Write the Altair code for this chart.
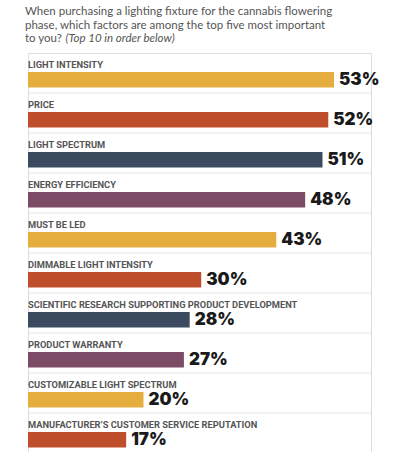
import altair as alt
import pandas as pd

factors = [
    "LIGHT INTENSITY",
    "PRICE",
    "LIGHT SPECTRUM",
    "ENERGY EFFICIENCY",
    "MUST BE LED",
    "DIMMABLE LIGHT INTENSITY",
    "SCIENTIFIC RESEARCH SUPPORTING PRODUCT DEVELOPMENT",
    "PRODUCT WARRANTY",
    "CUSTOMIZABLE LIGHT SPECTRUM",
    "MANUFACTURER\u2019S CUSTOMER SERVICE REPUTATION",
]
values = [53, 52, 51, 48, 43, 30, 28, 27, 20, 17]
color_group = ["a", "b", "c", "d", "a", "b", "c", "d", "a", "b"]
palette_domain = ["a", "b", "c", "d"]
palette_range = ["#E4AD3D", "#BF4F2C", "#3B4A5F", "#7C4B66"]

title_lines = [
    "When purchasing a lighting fixture for the cannabis flowering",
    "phase, which factors are among the top five most important",
    "to you?",
]
title_italic = "(Top 10 in order below)"

df = pd.DataFrame({
    "factor": factors,
    "value": values,
    "grp": color_group,
    "label": [f"{v}%" for v in values],
    "zero": [0] * len(values),
    "full": [59.4] * len(values),
})

ysc = alt.Scale(paddingInner=0, paddingOuter=0)
xsc = alt.Scale(domain=[0, 59.4], nice=False, zero=True)

base = alt.Chart(df).encode(
    y=alt.Y("factor:N", sort=None, axis=None, scale=ysc),
)

rules = base.mark_rule(color="#E3E3E3", strokeWidth=1, yOffset=20).encode(
    x=alt.X("zero:Q", scale=xsc, axis=None), x2="full:Q"
)

bars = base.mark_bar(size=15.5, yOffset=6.75).encode(
    x=alt.X("value:Q", scale=xsc, axis=None),
    color=alt.Color("grp:N", scale=alt.Scale(domain=palette_domain, range=palette_range), legend=None),
)

cat_text = base.mark_text(
    align="left", baseline="middle", dy=-8, font="Roboto",
    fontWeight="bold", fontSize=9.3, color="#555555",
).encode(x=alt.X("zero:Q", scale=xsc, axis=None), text="factor:N")

val_text = base.mark_text(
    align="left", baseline="middle", dx=5, dy=7, font="Inter",
    fontWeight=900, fontSize=17, color="#1a1a1a",
).encode(x=alt.X("value:Q", scale=xsc, axis=None), text="label:N")

layers = [rules, bars, cat_text, val_text]
title_y = [-41, -27.5, -14]
for line, yy in zip(title_lines, title_y):
    layers.append(
        alt.Chart(pd.DataFrame({"t": [line]})).mark_text(
            align="left", baseline="middle", font="Lato", fontSize=11.5, color="#555555",
        ).encode(x=alt.value(-3), y=alt.value(yy), text="t:N")
    )
layers.append(
    alt.Chart(pd.DataFrame({"t": [title_italic]})).mark_text(
        align="left", baseline="middle", font="Lato", fontSize=11.5, fontStyle="italic",
        color="#555555",
    ).encode(x=alt.value(37.5), y=alt.value(-14), text="t:N")
)

chart = alt.layer(*layers).properties(
    width=343, height=400,
    autosize=alt.AutoSizeParams(type="none"),
    padding={"left": 28, "top": 53, "right": 29, "bottom": 0},
).configure_view(stroke=None).configure(background="white")

chart.save("out.html", embed_options={"renderer": "svg", "actions": False})
